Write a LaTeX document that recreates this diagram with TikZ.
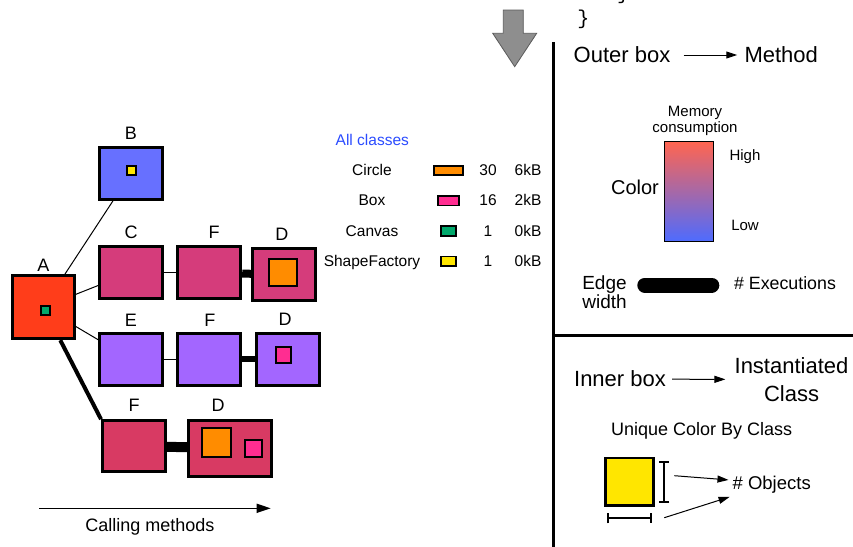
\documentclass[tikz,border=0pt]{standalone}
\usepackage{fontspec}
\setmainfont{Liberation Sans}
\setmonofont{Liberation Mono}
\usetikzlibrary{arrows.meta, positioning}

\definecolor{methRed}{HTML}{FF3D1A}
\definecolor{methBlue}{HTML}{6770FF}
\definecolor{methRose}{HTML}{D53C7B}
\definecolor{methRoseB}{HTML}{D83A63}
\definecolor{methPurple}{HTML}{A366FF}
\definecolor{clsOrange}{HTML}{FF8C00}
\definecolor{clsPink}{HTML}{FF2D91}
\definecolor{clsGreen}{HTML}{00A86B}
\definecolor{clsYellow}{HTML}{FFE600}
\definecolor{gradTop}{HTML}{FF6550}
\definecolor{gradMid}{HTML}{A562BC}
\definecolor{gradBot}{HTML}{4D6BFF}
\definecolor{legBlue}{HTML}{2A4BFF}
\definecolor{arrowGray}{HTML}{8E8E8E}
\definecolor{arrowEdge}{HTML}{5A5A5A}

\begin{document}
\begin{tikzpicture}[
    x=1pt, y=-1pt,
    method/.style={draw, line width=3pt, minimum width=63, minimum height=52, inner sep=0},
    obj/.style={draw, line width=2pt, inner sep=0},
    lbl/.style={inner sep=0, font=\fontsize{18}{20}\selectfont},
    txt/.style={inner sep=0, align=center},
    head/.style={txt, font=\fontsize{22}{27.3}\selectfont},
    sub/.style={txt, font=\fontsize{18}{21}\selectfont},
    small/.style={txt, font=\fontsize{15}{16.6}\selectfont},
    legtxt/.style={inner sep=0, anchor=base, font=\fontsize{15.5}{18}\selectfont},
    swatch/.style={draw, line width=1.8pt, inner sep=0},
    call/.style={line width=1pt, -{Triangle[length=11pt,width=7pt]}},
    thin/.style={line width=1pt}
]
\useasboundingbox (0,0) rectangle (853,546);

% Call tree
\node[method, fill=methRed, minimum width=62, minimum height=63] (A) at (43.3,307.2) {};
\node[obj, fill=clsGreen, minimum size=9.5] (Aobj) at (45.7,310.3) {};
\node[lbl, above=3pt of A] (Alab) {A};

\node[method, fill=methBlue] (B) at (131,173.3) {};
\node[obj, fill=clsYellow, minimum size=9.5] (Bobj) at (131.7,170.3) {};
\node[lbl, above=6.5pt of B] (Blab) {B};

\node[method, fill=methRose] (C) at (131,272.5) {};
\node[lbl, above=6pt of C] (Clab) {C};
\node[method, fill=methRose] (F1) at (209.2,272.5) {};
\node[lbl, above=6.5pt of F1, xshift=5pt] (F1lab) {F};
\node[method, fill=methRose, minimum width=62.5] (D1) at (283.8,274.8) {};
\node[obj, fill=clsOrange, minimum width=28, minimum height=27.5] (D1obj) at (283.3,272.5) {};
\node[lbl, above=6.5pt of D1, xshift=-2pt] (D1lab) {D};

\node[method, fill=methPurple] (E) at (131,359.2) {};
\node[lbl, above=5.5pt of E] (Elab) {E};
\node[method, fill=methPurple] (F2) at (208.8,359.2) {};
\node[lbl, above=5.5pt of F2, xshift=1pt] (F2lab) {F};
\node[method, fill=methPurple] (D2) at (287.5,359.2) {};
\node[obj, fill=clsPink, minimum size=15.5] (D2obj) at (283.3,355) {};
\node[lbl, above=6pt of D2, xshift=-2.5pt] (D2lab) {D};

\node[method, fill=methRoseB, minimum height=51] (F3) at (134,446.2) {};
\node[lbl, above=7.5pt of F3] (F3lab) {F};
\node[method, fill=methRoseB, minimum width=82.5, minimum height=56] (D3) at (230,448) {};
\node[obj, fill=clsOrange, minimum size=28.7] (D3obj) at (216.3,442.2) {};
\node[obj, fill=clsPink, minimum size=16.5] (D3obj2) at (253.3,448.3) {};
\node[lbl, above=7pt of D3, xshift=-12pt] (D3lab) {D};

% Calls
\draw[thin] (A) -- (B);
\draw[thin] (A) -- (C);
\draw[thin] (A) -- (E);
\draw[line width=4pt] (A) -- (F3.north west);
\draw[thin] (C) -- (F1);
\draw[line width=8pt] (F1) -- (D1);
\draw[thin] (E) -- (F2);
\draw[line width=6pt] (F2) -- (D2);
\draw[line width=10pt] (F3) -- (D3);

\coordinate (callstart) at (39.3,508.3);
\coordinate (callend) at (270.7,508.3);
\draw[line width=1.5pt, -{Triangle[length=14pt,width=9pt]}] (callstart) -- (callend);
\node[sub, anchor=base] (calltxt) at (150,531.5) {Calling methods};

% Legend of classes
\node[legtxt, text=legBlue] (allcls) at (372.3,145.5) {All classes};
\foreach \cls/\col/\sw/\sh/\num/\mem [count=\i from 0] in {
    Circle/clsOrange/29.3/9.7/30/6kB,
    Box/clsPink/21.3/9.3/16/2kB,
    Canvas/clsGreen/14.7/10.3/1/0kB,
    ShapeFactory/clsYellow/14.7/9.7/1/0kB} {
  \node[legtxt] (cls\i) at (372,175.5+30.3*\i) {\cls};
  \node[swatch, fill=\col, minimum width=\sw, minimum height=\sh] (sw\i) at (448.3,170.5+30.3*\i) {};
  \node[legtxt] (num\i) at (488,175.5+30.3*\i) {\num};
  \node[legtxt] (mem\i) at (528,175.5+30.3*\i) {\mem};
}

% Code ends, arrow down
\node[inner sep=0, font=\fontsize{20}{20}\ttfamily] (brc0) at (623,-6) {\}};
\node[inner sep=0, font=\fontsize{20}{20}\ttfamily] (brc1) at (583.3,19.5) {\}};
\filldraw[fill=arrowGray, draw=arrowEdge, line width=0.8pt]
    (503.3,10) -- (523.3,10) -- (523.3,33.3) -- (536.7,33.3) -- (514.7,66.7)
    -- (492.7,33.3) -- (503.3,33.3) -- cycle;

% Key panel
\draw[line width=3pt] (553.3,42) -- (553.3,550);
\draw[line width=3pt] (553.3,335.7) -- (856,335.7);

\node[head] (outer) at (622,55) {Outer box};
\node[head, right=73.8pt of outer] (method) {Method};
\draw[call, shorten <=13pt, shorten >=7pt] (outer) -- (method);

\node[small] (memlab) at (695,120.7) {Memory\\consumption};
\node[draw, line width=0.8pt, top color=gradTop, middle color=gradMid, bottom color=gradBot,
      minimum width=49, minimum height=100, inner sep=0] (bar) at (689.3,191.7) {};
\node[small] (high) at (745,156.7) {High};
\node[small] (low) at (745,225) {Low};
\node[txt, font=\fontsize{20}{24}\selectfont] (colorlab) at (635,187.3) {Color};

\node[txt, font=\fontsize{19}{19}\selectfont] (edgew) at (604.5,292) {Edge\\width};
\coordinate (ew1) at (644.8,285);
\coordinate (ew2) at (711.8,285);
\draw[line width=15pt, line cap=round] (ew1) -- (ew2);
\node[txt, font=\fontsize{17.8}{20}\selectfont] (execs) at (785,283.3) {\# Executions};

\node[head] (inner) at (620,379) {Inner box};
\node[head] (instcls) at (791.5,379.6) {Instantiated\\Class};
\draw[call, shorten <=6pt, shorten >=9pt] (inner) -- (instcls);

\node[sub, anchor=base] (unique) at (701.7,435.8) {Unique Color By Class};
\node[draw, line width=2.5pt, fill=clsYellow, minimum width=48, minimum height=47.5, inner sep=0] (ysq) at (629.7,481.7) {};
\coordinate (hgtA) at (664.3,461);
\coordinate (hgtB) at (664.3,503.3);
\coordinate (widA) at (607.3,518.3);
\coordinate (widB) at (651.7,518.3);
\draw[line width=2pt, {Bar[width=10pt]}-{Bar[width=10pt]}] (hgtA) -- (hgtB);
\draw[line width=2pt, {Bar[width=10pt]}-{Bar[width=10pt]}] (widA) -- (widB);
\node[txt, anchor=base, font=\fontsize{18.5}{20}\selectfont] (objs) at (771.7,489) {\# Objects};
\coordinate (hgtout) at (674.3,475.7);
\coordinate (widout) at (664.3,517.7);
\draw[call, shorten >=4pt] (hgtout) -- ([yshift=4pt]objs.west);
\draw[call, shorten >=3pt] (widout) -- ([yshift=-3pt]objs.south west);

\end{tikzpicture}
\end{document}
